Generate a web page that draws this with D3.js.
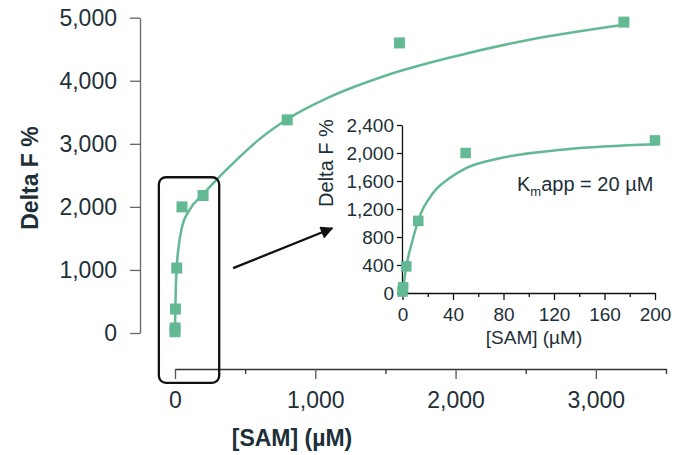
<!DOCTYPE html>
<html lang="en">
  <head>
    <meta charset="utf-8" />
    <title>SAM titration</title>
    <script src="https://cdnjs.cloudflare.com/ajax/libs/d3/7.8.5/d3.min.js"></script>
    <style>
      body { margin: 0; background: #fff; }
      svg { display: block; font-family: "Liberation Sans", Arial, sans-serif; }
      .tick text { fill: #1d2f37; }
    </style>
  </head>
  <body>
    <script>
      // measured values (SAM in µM, Delta F in %)
      const samConc = [0, 0.5, 3, 12.5, 50, 200, 800, 1600, 3200];
      const deltaF = [20, 80, 380, 1030, 2000, 2180, 3380, 4600, 4930];

      // fitted curves
      const fitMainX = [0, 2, 5, 12, 25, 50, 100, 200, 300, 450, 600, 800, 1100, 1500, 2000, 2500, 3200];
      const fitMainY = [0, 300, 650, 1030, 1350, 1680, 1940, 2200, 2440, 2770, 3070, 3390, 3740, 4080, 4390, 4640, 4890];
      const fitInsetX = [0, 3, 8, 13.5, 24, 37, 50, 77, 130, 200];
      const fitInsetY = [0, 376, 757, 1090, 1424, 1638, 1781, 1924, 2052, 2124];

      // ticks
      const mainYTicks = [0, 1000, 2000, 3000, 4000, 5000];
      const mainXTicks = [0, 1000, 2000, 3000];
      const mainXMinor = [500, 1500, 2500, 3500];
      const insetYTicks = [0, 400, 800, 1200, 1600, 2000, 2400];
      const insetXTicks = [0, 40, 80, 120, 160, 200];
      const insetXMinor = [20, 60, 100, 140, 180];

      const width = 687, height = 455;
      const green = '#62b993';
      const ink = '#1d2f37';

      const svg = d3.select('body').append('svg')
        .attr('width', width)
        .attr('height', height)
        .attr('viewBox', [0, 0, width, height]);

      // ---- main chart ----
      const x = d3.scaleLinear().domain([0, 3500]).range([175, 666]);
      const y = d3.scaleLinear().domain([0, 5000]).range([333, 17.7]);

      const fmt = d3.format(',');

      svg.append('g')
        .attr('transform', 'translate(140,0)')
        .call(d3.axisLeft(y).tickValues(mainYTicks).tickFormat(fmt).tickSize(10).tickPadding(13).tickSizeOuter(0))
        .call(g => g.select('.domain').attr('stroke', '#666').attr('stroke-width', 1.3))
        .call(g => g.selectAll('.tick line').attr('stroke', '#666').attr('stroke-width', 1.3))
        .call(g => g.selectAll('.tick text').attr('font-size', 23).attr('font-family', 'Liberation Sans, Arial, sans-serif'));

      svg.append('g')
        .attr('transform', 'translate(0,369)')
        .call(d3.axisBottom(x).tickValues(mainXMinor).tickFormat('').tickSize(5).tickSizeOuter(0))
        .call(g => g.select('.domain').attr('stroke', '#333').attr('stroke-width', 1.3))
        .call(g => g.selectAll('.tick line').attr('stroke', '#333').attr('stroke-width', 1.3));

      svg.append('g')
        .attr('transform', 'translate(0,369)')
        .call(d3.axisBottom(x).tickValues(mainXTicks).tickFormat(fmt).tickSize(10).tickPadding(13).tickSizeOuter(0))
        .call(g => g.select('.domain').remove())
        .call(g => g.selectAll('.tick line').attr('stroke', '#555').attr('stroke-width', 1.3))
        .call(g => g.selectAll('.tick text').attr('font-size', 23).attr('font-family', 'Liberation Sans, Arial, sans-serif'));

      svg.append('text')
        .attr('transform', 'translate(38,178) rotate(-90)')
        .attr('text-anchor', 'middle')
        .attr('font-size', 23)
        .attr('font-weight', 'bold')
        .attr('fill', ink)
        .text('Delta F %');

      svg.append('text')
        .attr('x', 292)
        .attr('y', 446)
        .attr('text-anchor', 'middle')
        .attr('font-size', 23)
        .attr('font-weight', 'bold')
        .attr('fill', ink)
        .text('[SAM] (µM)');

      const mainLine = d3.line()
        .x(d => x(d[0]))
        .y(d => y(d[1]))
        .curve(d3.curveMonotoneX);

      svg.append('path')
        .datum(d3.zip(fitMainX, fitMainY))
        .attr('fill', 'none')
        .attr('stroke', green)
        .attr('stroke-width', 2.5)
        .attr('d', mainLine);

      const sq = 11;
      svg.append('g')
        .selectAll('rect')
        .data(d3.zip(samConc, deltaF))
        .join('rect')
        .attr('x', d => x(d[0]) - sq / 2)
        .attr('y', d => y(d[1]) - sq / 2)
        .attr('width', sq)
        .attr('height', sq)
        .attr('fill', green);

      // zoom box around the low-concentration points
      const boxX = [-115, 315];
      const boxY = [2470, -790];
      svg.append('rect')
        .attr('x', x(boxX[0]))
        .attr('y', y(boxY[0]))
        .attr('width', x(boxX[1]) - x(boxX[0]))
        .attr('height', y(boxY[1]) - y(boxY[0]))
        .attr('rx', 7)
        .attr('fill', 'none')
        .attr('stroke', '#111')
        .attr('stroke-width', 2.3);

      // arrow pointing to the inset
      const arrowFrom = [414, 1028];
      const arrowTo = [1121, 1661];
      svg.append('defs').append('marker')
        .attr('id', 'head')
        .attr('viewBox', '0 0 10 10')
        .attr('refX', 9)
        .attr('refY', 5)
        .attr('markerWidth', 6.5)
        .attr('markerHeight', 5.5)
        .attr('markerUnits', 'strokeWidth')
        .attr('orient', 'auto')
        .append('path')
        .attr('d', 'M0,0 L10,5 L0,10 Z')
        .attr('fill', '#111');

      svg.append('line')
        .attr('x1', x(arrowFrom[0]))
        .attr('y1', y(arrowFrom[1]))
        .attr('x2', x(arrowTo[0]))
        .attr('y2', y(arrowTo[1]))
        .attr('stroke', '#111')
        .attr('stroke-width', 2.3)
        .attr('marker-end', 'url(#head)');

      // ---- inset ----
      const xi = d3.scaleLinear().domain([0, 200]).range([402.5, 655]);
      const yi = d3.scaleLinear().domain([0, 2400]).range([293, 125]);

      svg.append('g')
        .attr('transform', 'translate(402,0)')
        .call(d3.axisLeft(yi).tickValues(insetYTicks).tickFormat(fmt).tickSize(5).tickPadding(3).tickSizeOuter(0))
        .call(g => g.select('.domain').attr('stroke', '#111').attr('stroke-width', 1.3))
        .call(g => g.selectAll('.tick line').attr('stroke', '#111').attr('stroke-width', 1.3))
        .call(g => g.selectAll('.tick text').attr('font-size', 19).attr('font-family', 'Liberation Sans, Arial, sans-serif'));

      svg.append('g')
        .attr('transform', 'translate(0,293)')
        .call(d3.axisBottom(xi).tickValues(insetXMinor).tickFormat('').tickSize(4).tickSizeOuter(0))
        .call(g => g.select('.domain').attr('stroke', '#111').attr('stroke-width', 1.3))
        .call(g => g.selectAll('.tick line').attr('stroke', '#111').attr('stroke-width', 1.3));

      svg.append('g')
        .attr('transform', 'translate(0,293)')
        .call(d3.axisBottom(xi).tickValues(insetXTicks).tickFormat(fmt).tickSize(7).tickPadding(8).tickSizeOuter(0))
        .call(g => g.select('.domain').remove())
        .call(g => g.selectAll('.tick line').attr('stroke', '#111').attr('stroke-width', 1.3))
        .call(g => g.selectAll('.tick text').attr('font-size', 19).attr('font-family', 'Liberation Sans, Arial, sans-serif'));

      svg.append('text')
        .attr('transform', 'translate(333,163) rotate(-90)')
        .attr('text-anchor', 'middle')
        .attr('font-size', 20)
        .attr('fill', ink)
        .text('Delta F %');

      svg.append('text')
        .attr('x', 534)
        .attr('y', 344)
        .attr('text-anchor', 'middle')
        .attr('font-size', 19)
        .attr('fill', ink)
        .text('[SAM] (µM)');

      const km = svg.append('text')
        .attr('x', 517)
        .attr('y', 191)
        .attr('font-size', 20)
        .attr('fill', ink);
      km.append('tspan').text('K');
      km.append('tspan').attr('font-size', 13).attr('dy', 5).text('m');
      km.append('tspan').attr('dy', -5).text('app = 20 µM');

      const insetLine = d3.line()
        .x(d => xi(d[0]))
        .y(d => yi(d[1]))
        .curve(d3.curveMonotoneX);

      svg.append('path')
        .datum(d3.zip(fitInsetX, fitInsetY))
        .attr('fill', 'none')
        .attr('stroke', green)
        .attr('stroke-width', 2.5)
        .attr('d', insetLine);

      const isq = 10.5;
      svg.append('g')
        .selectAll('rect')
        .data(d3.zip(samConc, deltaF).filter(d => d[0] <= 200))
        .join('rect')
        .attr('x', d => xi(d[0]) - isq / 2)
        .attr('y', d => yi(d[1]) - isq / 2)
        .attr('width', isq)
        .attr('height', isq)
        .attr('fill', green);
    </script>
  </body>
</html>
